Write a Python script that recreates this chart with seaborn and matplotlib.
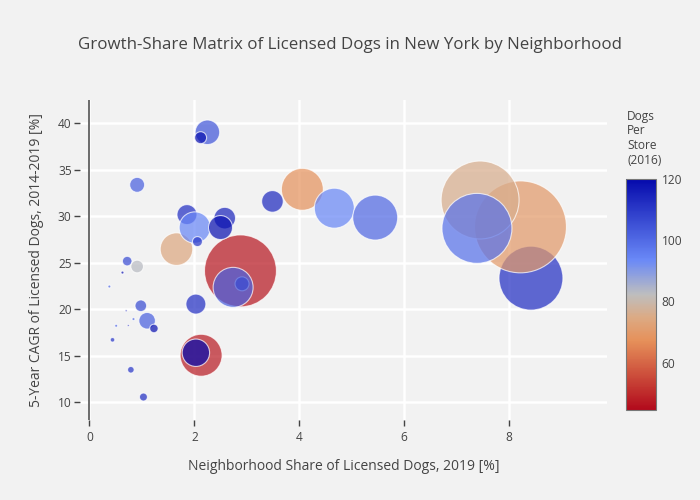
import numpy as np
import pandas as pd
import seaborn as sns
import matplotlib.pyplot as plt
from matplotlib.colors import LinearSegmentedColormap, Normalize
from matplotlib.cm import ScalarMappable

# values (drawing order matters: later on top)
share_2019 = [8.42, 8.22, 7.45, 7.39, 4.06, 4.67, 5.45, 3.49,
              2.88, 2.91, 2.74, 2.03, 2.13, 2.03, 2.25, 2.12,
              1.66, 1.86, 2.01, 2.58, 2.50, 2.06, 0.72, 0.91,
              0.63, 0.38, 0.98, 0.70, 0.84, 1.10, 1.23, 0.74,
              0.51, 0.44, 0.79, 1.03, 0.91]
cagr_5yr = [23.35, 28.86, 31.75, 28.70, 32.90, 30.87, 29.86, 31.60,
            24.13, 22.74, 22.36, 20.56, 15.06, 15.33, 39.03, 38.45,
            26.47, 30.18, 28.79, 29.80, 28.79, 27.28, 25.18, 24.60,
            23.95, 22.45, 20.38, 19.84, 18.95, 18.77, 17.94, 18.26,
            18.23, 16.72, 13.50, 10.57, 33.38]
dogs_per_store = [112, 70, 76, 98, 68, 94, 100, 113,
                  47, 116, 102, 112, 48, 120, 104, 118,
                  74, 112, 94, 114, 118, 110, 106, 83,
                  118, 100, 106, 118, 100, 102, 118, 118,
                  100, 110, 110, 112, 102]
bubble_val = [1024, 2116, 1521, 1225, 441, 400, 506, 117,
              1296, 49, 400, 100, 441, 188, 151, 36,
              266, 100, 246, 117, 144, 25, 23, 40,
              2.2, 2.2, 34, 1, 2.2, 69, 18, 1,
              2.2, 5.3, 11, 16, 56]

df = pd.DataFrame({'share': share_2019, 'cagr': cagr_5yr,
                   'dps': dogs_per_store, 'bubble': bubble_val})

# plotly-like RdBu, red at low values
stops = [(0.0, (178, 10, 28)), (0.3, (230, 145, 90)), (0.4, (220, 170, 132)),
         (0.5, (190, 190, 190)), (0.65, (106, 137, 247)), (1.0, (5, 10, 172))]
cmap = LinearSegmentedColormap.from_list(
    'rdbu_plotly', [(p, tuple(c / 255 for c in rgb)) for p, rgb in stops])
cnorm = Normalize(44.5, 120)

bg = '#f2f2f2'
txt = '#444444'
sns.set_theme(style='whitegrid')
plt.rcParams['font.family'] = ['Open Sans', 'DejaVu Sans']

fig = plt.figure(figsize=(7, 5), dpi=100, facecolor=bg)
ax = fig.add_axes([80 / 700, 80 / 500, 527 / 700, 320 / 500])
ax.set_facecolor(bg)

# area in pt^2 ~ 2.07 * (radius in px)^2 at 100 dpi
vmax = max(bubble_val)
sns.scatterplot(data=df, x='share', y='cagr', hue='dps', size='bubble',
                palette=cmap, hue_norm=cnorm, size_norm=(0, vmax),
                sizes=(0, 2.07 * vmax), alpha=0.72, edgecolor='white',
                linewidth=0.8, legend=False, ax=ax, zorder=3)

ax.set_xlim(-0.18, 9.87)
ax.set_ylim(8.1, 42.5)
ax.set_xticks([0, 2, 4, 6, 8])
ax.set_yticks([10, 15, 20, 25, 30, 35, 40])
ax.grid(True, color='white', linewidth=1.8)
ax.set_axisbelow(True)
ax.axvline(0, color=txt, linewidth=1.1, zorder=2)
for s in ax.spines.values():
    s.set_visible(False)
ax.tick_params(axis='both', bottom=True, left=True, colors=txt,
               labelsize=8.6, length=4, width=1, direction='out', pad=2)
ax.tick_params(axis='x', pad=4)

ax.set_xlabel('Neighborhood Share of Licensed Dogs, 2019 [%]',
              fontsize=10, color=txt, va='center')
ax.set_ylabel('5-Year CAGR of Licensed Dogs, 2014-2019 [%]',
              fontsize=10, color=txt, va='center')
ax.xaxis.set_label_coords(0.5, -(466 - 420) / 320)
ax.yaxis.set_label_coords(-(80 - 37) / 527, 0.5)

fig.text(350 / 700, 1 - 45 / 500,
         'Growth-Share Matrix of Licensed Dogs in New York by Neighborhood',
         ha='center', va='center', fontsize=12.2, color=txt)

# colorbar
cax = fig.add_axes([626 / 700, 90 / 500, 30 / 700, 231 / 500])
cb = fig.colorbar(ScalarMappable(norm=cnorm, cmap=cmap), cax=cax)
cb.set_ticks([60, 80, 100, 120])
cb.ax.tick_params(length=0, labelsize=8.6, colors=txt, pad=4)
cb.outline.set_edgecolor('#777777')
cb.outline.set_linewidth(0.8)
fig.text(627 / 700, 1 - 110 / 500, 'Dogs\nPer\nStore\n(2016)',
         ha='left', va='top', fontsize=8.6, color=txt, linespacing=1.15)

fig.savefig('out.png', dpi=100, facecolor=bg)
